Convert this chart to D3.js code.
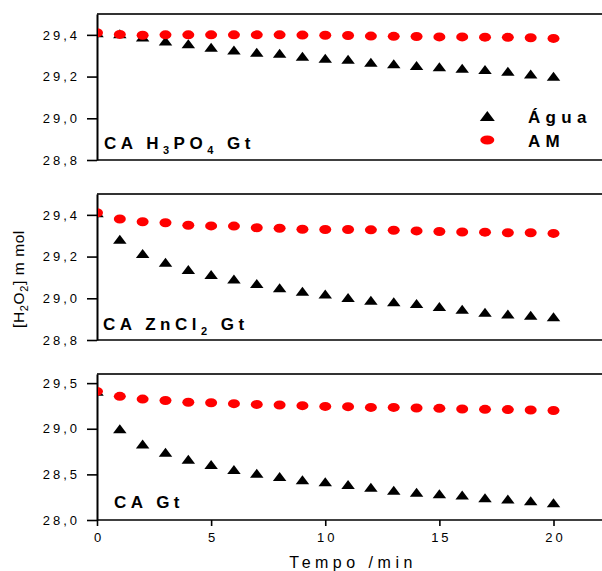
<!DOCTYPE html>
<html><head><meta charset="utf-8">
<script src="https://cdn.jsdelivr.net/npm/d3@7"></script>
<style>
body{margin:0;background:#fff}
svg{display:block;font-family:"Liberation Sans",Arial,sans-serif}
</style>
</head><body>
<svg id="c" width="602" height="571"></svg>
<script>
// ---------- data ----------
const time = [0,1,2,3,4,5,6,7,8,9,10,11,12,13,14,15,16,17,18,19,20];

const aguaH3PO4 = [29.41,29.405,29.39,29.37,29.357,29.34,29.327,29.317,29.312,29.298,29.288,29.283,29.269,29.261,29.253,29.247,29.24,29.234,29.226,29.212,29.202];
const amH3PO4   = [29.41,29.402,29.398,29.4,29.4,29.4,29.4,29.4,29.4,29.399,29.398,29.397,29.394,29.393,29.392,29.39,29.39,29.389,29.388,29.386,29.383];

const aguaZnCl2 = [29.41,29.283,29.215,29.173,29.138,29.114,29.092,29.071,29.05,29.034,29.02,29.004,28.99,28.983,28.975,28.961,28.947,28.933,28.925,28.919,28.911];
const amZnCl2   = [29.41,29.38,29.367,29.362,29.35,29.347,29.346,29.338,29.336,29.331,29.33,29.33,29.328,29.326,29.323,29.32,29.318,29.317,29.314,29.314,29.311];

const aguaCA = [29.41,29.0,28.833,28.743,28.666,28.608,28.553,28.513,28.477,28.44,28.418,28.39,28.36,28.327,28.305,28.287,28.273,28.243,28.229,28.21,28.188];
const amCA   = [29.41,29.355,29.325,29.31,29.29,29.285,29.275,29.267,29.26,29.253,29.245,29.242,29.234,29.234,29.227,29.224,29.216,29.213,29.21,29.205,29.2];

const yTicksTop = [28.8,29.0,29.2,29.4];
const yTicksBottom = [28.0,28.5,29.0,29.5];
const xTicks = [0,5,10,15,20];

const seriesNames = ["Água","AM"];
// panel labels as [text, subscript?] pieces
const labelH3PO4 = [["CA H",false],["3",true],["PO",false],["4",true],[" Gt",false]];
const labelZnCl2 = [["CA ZnCl",false],["2",true],[" Gt",false]];
const labelCA    = [["CA Gt",false]];

// ---------- layout ----------
const svg = d3.select("#c");
const X0 = 97, X20 = 553.5, XR = 602;
const x = d3.scaleLinear().domain([0,20]).range([X0,X20]);

const panels = [
  {agua:aguaH3PO4, am:amH3PO4, top:14, bottom:160, dom:[28.8,29.5], ticks:yTicksTop, label:labelH3PO4, lx:104, ly:149},
  {agua:aguaZnCl2, am:amZnCl2, top:194, bottom:340, dom:[28.8,29.5], ticks:yTicksTop, label:labelZnCl2, lx:103, ly:330},
  {agua:aguaCA, am:amCA, top:374, bottom:520, dom:[28.0,29.6], ticks:yTicksBottom, label:labelCA, lx:114, ly:508}
];

const fmt = v => d3.format(".1f")(v).replace(".", ",");
const red = "#ff0000";

function tri(cx, cy, w, h){
  return `M${cx},${cy-h/2}L${cx+w/2},${cy+h/2}L${cx-w/2},${cy+h/2}Z`;
}

panels.forEach((p,i)=>{
  const y = d3.scaleLinear().domain(p.dom).range([p.bottom,p.top]);
  const g = svg.append("g");

  const cid = "clip"+i;
  svg.append("clipPath").attr("id",cid).append("rect")
    .attr("x",X0+1).attr("y",p.top-10).attr("width",XR-X0).attr("height",p.bottom-p.top+20);

  g.append("line").attr("x1",X0).attr("x2",XR).attr("y1",p.top).attr("y2",p.top)
    .attr("stroke","#333").attr("stroke-width",2);
  g.append("line").attr("x1",X0).attr("x2",XR).attr("y1",p.bottom).attr("y2",p.bottom)
    .attr("stroke","#000").attr("stroke-width",1.6);

  const ya = g.append("g").attr("transform",`translate(${X0},0)`)
    .call(d3.axisLeft(y).tickValues(p.ticks).tickSize(10).tickSizeOuter(0).tickPadding(7).tickFormat(fmt));
  ya.select(".domain").attr("stroke","#000").attr("stroke-width",2);
  ya.selectAll(".tick line").attr("stroke","#000").attr("stroke-width",1.6);
  ya.selectAll(".tick text").attr("font-size",13).attr("letter-spacing",3).attr("fill","#000")
    .attr("font-family","'Liberation Sans',Arial,sans-serif");

  const m = g.append("g").attr("clip-path",`url(#${cid})`);
  m.selectAll("path.t").data(time).join("path").attr("class","t")
    .attr("d",(t,k)=>tri(x(t), y(p.agua[k]), 13.5, 9)).attr("fill","#000");
  m.selectAll("ellipse").data(time).join("ellipse")
    .attr("cx",t=>x(t)).attr("cy",(t,k)=>y(p.am[k])).attr("rx",6).attr("ry",4.5).attr("fill",red);

  const lt = g.append("text").attr("x",p.lx).attr("y",p.ly)
    .attr("font-size",17).attr("font-weight","bold").attr("letter-spacing",4.5).attr("fill","#000");
  p.label.forEach((piece,k)=>{
    const ts = lt.append("tspan").text(piece[0]);
    if(piece[1]){ ts.attr("font-size",11).attr("dy",5); }
    else if(k>0 && p.label[k-1][1]){ ts.attr("dy",-5); }
  });

  if(i===2){
    const xa = g.append("g").attr("transform",`translate(0,${p.bottom})`)
      .call(d3.axisBottom(x).tickValues(xTicks).tickSize(6).tickSizeOuter(0).tickPadding(7).tickFormat(d3.format("d")));
    xa.select(".domain").remove();
    xa.selectAll(".tick line").attr("stroke","#000").attr("stroke-width",1.6);
    xa.selectAll(".tick text").attr("font-size",13).attr("letter-spacing",3).attr("dx",1.5).attr("fill","#000")
      .attr("font-family","'Liberation Sans',Arial,sans-serif");
  }
});

// legend
const lg = svg.append("g");
lg.append("path").attr("d",tri(487.3,116,15,10)).attr("fill","#000");
lg.append("ellipse").attr("cx",487.3).attr("cy",140).attr("rx",7).attr("ry",4.5).attr("fill",red);
lg.selectAll("text").data(seriesNames).join("text")
  .attr("x",528).attr("y",(d,k)=>123.3+k*23.4).text(d=>d)
  .attr("font-size",17).attr("font-weight","bold").attr("letter-spacing",5.3).attr("fill","#000");

// axis titles
svg.append("text").attr("x",353).attr("y",568).attr("text-anchor","middle")
  .attr("font-size",16).attr("letter-spacing",4.5).attr("fill","#000").text("Tempo /min");

const yt = svg.append("text").attr("transform","translate(24,279) rotate(-90)")
  .attr("text-anchor","middle").attr("font-size",15.5).attr("letter-spacing",0.6).attr("fill","#000");
yt.append("tspan").text("[H");
yt.append("tspan").text("2").attr("font-size",11).attr("dy",4);
yt.append("tspan").text("O").attr("dy",-4);
yt.append("tspan").text("2").attr("font-size",11).attr("dy",4);
yt.append("tspan").text("] m mol").attr("dy",-4);
</script>
</body></html>
